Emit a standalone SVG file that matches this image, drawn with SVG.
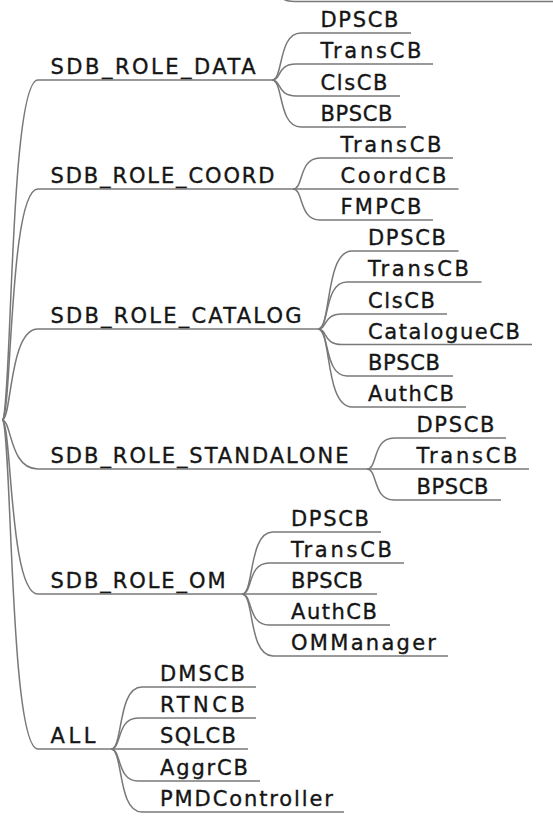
<svg xmlns="http://www.w3.org/2000/svg" width="553" height="819" viewBox="0 0 553 819">
<style>
.t{font-family:"DejaVu Sans","Liberation Sans",sans-serif;font-size:21px;fill:#151515;stroke:#151515;stroke-width:0.35;}
.c{fill:none;stroke:#787878;stroke-width:1.5;}
.u{fill:none;stroke:#787878;stroke-width:1.5;}
</style>
<rect width="553" height="819" fill="#fff"/>
<g id="connectors">
  <path class="c" d="M278 -12 C280 -2 283 1.5 295 1.5"/>
  <path class="c" d="M2 420 C12 420 9 80 38 80"/>
  <path class="c" d="M2 420 C12 420 9 189 38 189"/>
  <path class="c" d="M2 420 C12 420 9 329 38 329"/>
  <path class="c" d="M2 420 C12 420 9 469 38 469"/>
  <path class="c" d="M2 420 C12 420 9 594 38 594"/>
  <path class="c" d="M2 420 C12 420 9 749 38 749"/>
  <path class="c" d="M272 80 C283.6 80 277.8 33 301 33"/>
  <path class="c" d="M272 80 C281.6 80 276.8 64 296 64"/>
  <path class="c" d="M272 80 C281.6 80 276.8 96 296 96"/>
  <path class="c" d="M272 80 C283.6 80 277.8 127 301 127"/>
  <path class="c" d="M293 189 C303.8 189 298.4 158 320 158"/>
  <path class="c" d="M293 189 L320 189"/>
  <path class="c" d="M293 189 C303.8 189 298.4 220 320 220"/>
  <path class="c" d="M318 329 C331.6 329 324.8 251 352 251"/>
  <path class="c" d="M318 329 C329.6 329 323.8 282 347 282"/>
  <path class="c" d="M318 329 C327.6 329 322.8 314 342 314"/>
  <path class="c" d="M318 329 C327.6 329 322.8 344.5 342 344.5"/>
  <path class="c" d="M318 329 C329.6 329 323.8 376 347 376"/>
  <path class="c" d="M318 329 C331.6 329 324.8 407 352 407"/>
  <path class="c" d="M367 469 C377.8 469 372.4 438 394 438"/>
  <path class="c" d="M367 469 L394 469"/>
  <path class="c" d="M367 469 C377.8 469 372.4 500 394 500"/>
  <path class="c" d="M242 594 C254.4 594 248.2 532 273 532"/>
  <path class="c" d="M242 594 C252.8 594 247.4 563 269 563"/>
  <path class="c" d="M242 594 L269 594"/>
  <path class="c" d="M242 594 C252.8 594 247.4 625 269 625"/>
  <path class="c" d="M242 594 C254.4 594 248.2 656 273 656"/>
  <path class="c" d="M111 749 C123.4 749 117.2 687 142 687"/>
  <path class="c" d="M111 749 C121.8 749 116.4 718 138 718"/>
  <path class="c" d="M111 749 L138 749"/>
  <path class="c" d="M111 749 C121.8 749 116.4 781 138 781"/>
  <path class="c" d="M111 749 C123.4 749 117.2 812 142 812"/>
</g>
<g id="node-top-cut"><path class="u" d="M295 1.5 L553 1.5"/></g>

<g id="node-data"><text class="t" x="50.5" y="74" textLength="205" lengthAdjust="spacing">SDB_ROLE_DATA</text><path class="u" d="M38 80 L272 80"/></g>
<g id="node-data-dpscb"><text class="t" x="320.5" y="27" textLength="78" lengthAdjust="spacing">DPSCB</text><path class="u" d="M301 33 L411 33"/></g>
<g id="node-data-transcb"><text class="t" x="320.5" y="58" textLength="101" lengthAdjust="spacing">TransCB</text><path class="u" d="M296 64 L433 64"/></g>
<g id="node-data-clscb"><text class="t" x="320.5" y="90" textLength="67" lengthAdjust="spacing">ClsCB</text><path class="u" d="M296 96 L400 96"/></g>
<g id="node-data-bpscb"><text class="t" x="320.5" y="121" textLength="72" lengthAdjust="spacing">BPSCB</text><path class="u" d="M301 127 L406 127"/></g>

<g id="node-coord"><text class="t" x="50.5" y="183" textLength="224" lengthAdjust="spacing">SDB_ROLE_COORD</text><path class="u" d="M38 189 L293 189"/></g>
<g id="node-coord-transcb"><text class="t" x="340.5" y="152" textLength="101" lengthAdjust="spacing">TransCB</text><path class="u" d="M320 158 L453 158"/></g>
<g id="node-coord-coordcb"><text class="t" x="340.5" y="183" textLength="106" lengthAdjust="spacing">CoordCB</text><path class="u" d="M320 189 L458.5 189"/></g>
<g id="node-coord-fmpcb"><text class="t" x="340.5" y="214" textLength="81" lengthAdjust="spacing">FMPCB</text><path class="u" d="M320 220 L433 220"/></g>

<g id="node-catalog"><text class="t" x="50.5" y="323" textLength="251" lengthAdjust="spacing">SDB_ROLE_CATALOG</text><path class="u" d="M38 329 L318 329"/></g>
<g id="node-catalog-dpscb"><text class="t" x="368" y="245" textLength="78" lengthAdjust="spacing">DPSCB</text><path class="u" d="M352 251 L458.5 251"/></g>
<g id="node-catalog-transcb"><text class="t" x="368" y="276" textLength="101" lengthAdjust="spacing">TransCB</text><path class="u" d="M347 282 L481.5 282"/></g>
<g id="node-catalog-clscb"><text class="t" x="368" y="308" textLength="67" lengthAdjust="spacing">ClsCB</text><path class="u" d="M342 314 L447 314"/></g>
<g id="node-catalog-cataloguecb"><text class="t" x="368" y="338.5" textLength="152" lengthAdjust="spacing">CatalogueCB</text><path class="u" d="M342 344.5 L532 344.5"/></g>
<g id="node-catalog-bpscb"><text class="t" x="368" y="370" textLength="72" lengthAdjust="spacing">BPSCB</text><path class="u" d="M347 376 L453 376"/></g>
<g id="node-catalog-authcb"><text class="t" x="368" y="401" textLength="86" lengthAdjust="spacing">AuthCB</text><path class="u" d="M352 407 L466 407"/></g>

<g id="node-standalone"><text class="t" x="50.5" y="463" textLength="298" lengthAdjust="spacing">SDB_ROLE_STANDALONE</text><path class="u" d="M38 469 L367 469"/></g>
<g id="node-standalone-dpscb"><text class="t" x="416.5" y="432" textLength="78" lengthAdjust="spacing">DPSCB</text><path class="u" d="M394 438 L506 438"/></g>
<g id="node-standalone-transcb"><text class="t" x="416.5" y="463" textLength="101" lengthAdjust="spacing">TransCB</text><path class="u" d="M394 469 L529 469"/></g>
<g id="node-standalone-bpscb"><text class="t" x="416.5" y="494" textLength="72" lengthAdjust="spacing">BPSCB</text><path class="u" d="M394 500 L501 500"/></g>

<g id="node-om"><text class="t" x="50.5" y="588" textLength="175" lengthAdjust="spacing">SDB_ROLE_OM</text><path class="u" d="M38 594 L242 594"/></g>
<g id="node-om-dpscb"><text class="t" x="291" y="526" textLength="78" lengthAdjust="spacing">DPSCB</text><path class="u" d="M273 532 L381 532"/></g>
<g id="node-om-transcb"><text class="t" x="291" y="557" textLength="101" lengthAdjust="spacing">TransCB</text><path class="u" d="M269 563 L404 563"/></g>
<g id="node-om-bpscb"><text class="t" x="291" y="588" textLength="72" lengthAdjust="spacing">BPSCB</text><path class="u" d="M269 594 L377 594"/></g>
<g id="node-om-authcb"><text class="t" x="291" y="619" textLength="86" lengthAdjust="spacing">AuthCB</text><path class="u" d="M269 625 L390 625"/></g>
<g id="node-om-ommanager"><text class="t" x="291" y="650" textLength="145" lengthAdjust="spacing">OMManager</text><path class="u" d="M273 656 L448 656"/></g>

<g id="node-all"><text class="t" x="50.5" y="743" textLength="45" lengthAdjust="spacing">ALL</text><path class="u" d="M38 749 L111 749"/></g>
<g id="node-all-dmscb"><text class="t" x="160" y="681" textLength="85" lengthAdjust="spacing">DMSCB</text><path class="u" d="M142 687 L256 687"/></g>
<g id="node-all-rtncb"><text class="t" x="160" y="712" textLength="85" lengthAdjust="spacing">RTNCB</text><path class="u" d="M138 718 L256 718"/></g>
<g id="node-all-sqlcb"><text class="t" x="160" y="743" textLength="76" lengthAdjust="spacing">SQLCB</text><path class="u" d="M138 749 L248 749"/></g>
<g id="node-all-aggrcb"><text class="t" x="160" y="775" textLength="88" lengthAdjust="spacing">AggrCB</text><path class="u" d="M138 781 L260 781"/></g>
<g id="node-all-pmdcontroller"><text class="t" x="160" y="806" textLength="173" lengthAdjust="spacing">PMDController</text><path class="u" d="M142 812 L344 812"/></g>
</svg>
